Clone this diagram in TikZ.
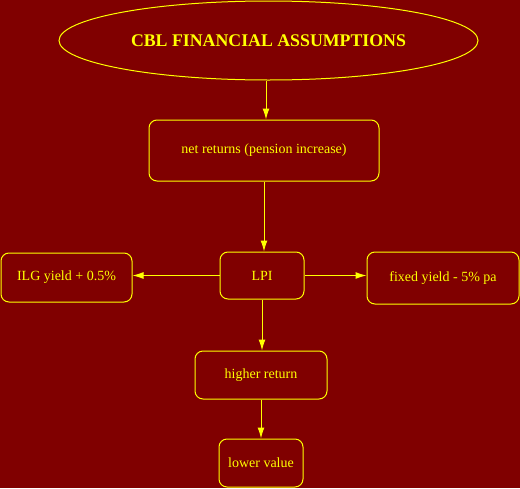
\documentclass[tikz,border=0pt]{standalone}
\usepackage{fontspec}
\setmainfont{Liberation Serif}
\usetikzlibrary{arrows.meta,shapes.geometric}
\definecolor{fondo}{RGB}{128,0,0}
\definecolor{amarillo}{RGB}{255,255,0}

\begin{document}
\begin{tikzpicture}[x=1pt,y=-1pt,
	caja/.style={draw=amarillo, line width=1pt, rounded corners=8pt,
		text=amarillo, font=\fontsize{14}{16}\selectfont, inner sep=0pt},
	flecha/.style={draw=amarillo, line width=1pt, -{Latex[length=11pt,width=7pt]}}]

%%%%%%%%%%%%%%%%%%%%%%%%%%%%%%%%%%%%%%%%%%%%%%%% 	FONDO
\fill[fondo] (0,0) rectangle (520,488);
\useasboundingbox (0,0) rectangle (520,488);

%%%%%%%%%%%%%%%%%%%%%%%%%%%%%%%%%%%%%%%%%%%%%%%% 	TITULO
\node[ellipse, draw=amarillo, line width=1pt, text=amarillo,
	font=\bfseries\fontsize{17.8}{20}\selectfont,
	minimum width=419pt, minimum height=79pt, inner sep=0pt]
	(titulo) at (268.5,40.5) {CBL FINANCIAL ASSUMPTIONS};

%%%%%%%%%%%%%%%%%%%%%%%%%%%%%%%%%%%%%%%%%%%%%%%% 	CAJAS
\node[caja, minimum width=230pt, minimum height=61pt] (retorno) at (264,150.5) {net returns (pension increase)};
\node[caja, minimum width=84pt, minimum height=47pt] (lpi) at (262,275.5) {LPI};
\node[caja, minimum width=131pt, minimum height=49pt] (ilg) at (66.5,277.5) {ILG yield + 0.5\%};
\node[caja, minimum width=152pt, minimum height=52pt] (fijo) at (443,278) {fixed yield - 5\% pa};
\node[caja, minimum width=132pt, minimum height=48pt] (alto) at (261,375) {higher return};
\node[caja, minimum width=84pt, minimum height=48pt] (bajo) at (261,463) {lower value};

%%%%%%%%%%%%%%%%%%%%%%%%%%%%%%%%%%%%%%%%%%%%%%%% 	FLECHAS
\draw[flecha] ([xshift=-2.5pt]titulo.south) -- ([xshift=-2.5pt]titulo.south |- retorno.north);
\draw[flecha] (retorno.south) -- (retorno.south |- lpi.north);
\draw[flecha] (lpi.west) -- (lpi.west -| ilg.east);
\draw[flecha] (lpi.east) -- (lpi.east -| fijo.west);
\draw[flecha] (lpi.south) -- (lpi.south |- alto.north);
\draw[flecha] (alto.south) -- (alto.south |- bajo.north);

\end{tikzpicture}
\end{document}
